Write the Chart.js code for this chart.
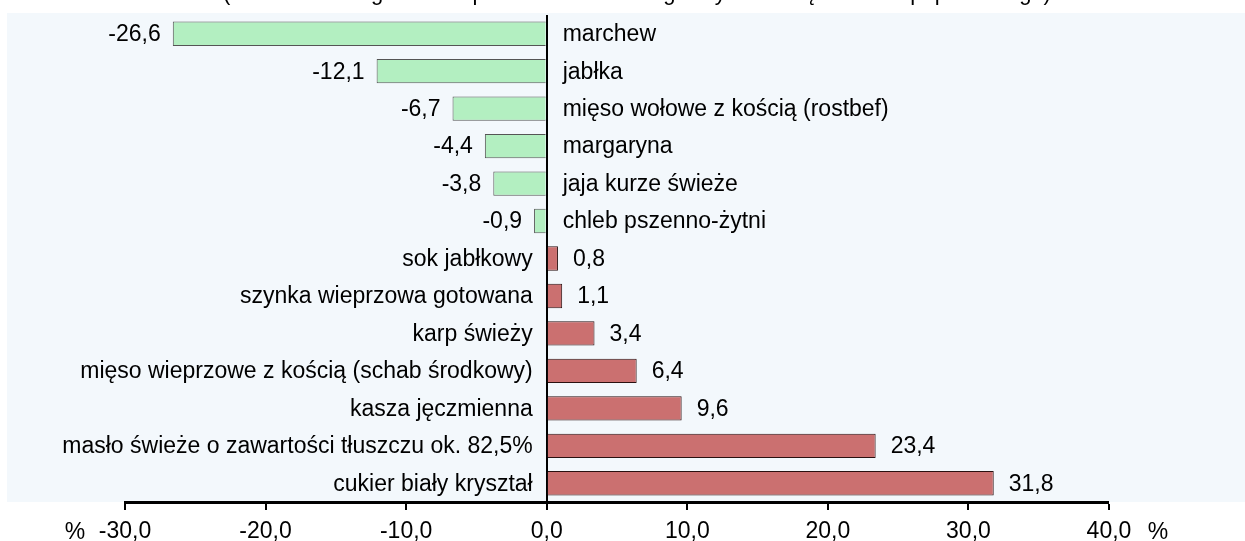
<!DOCTYPE html>
<html>
<head>
<meta charset="utf-8">
<script src="https://cdn.jsdelivr.net/npm/chart.js@4"></script>
<style>
  html, body { margin: 0; padding: 0; background: #fff; }
  #wrap { width: 1245px; height: 541px; position: relative; }
</style>
</head>
<body>
<div id="wrap"><canvas id="chart"></canvas></div>
<script>
// --- Dane ---
const categories = [
    'marchew',
    'jabłka',
    'mięso wołowe z kością (rostbef)',
    'margaryna',
    'jaja kurze świeże',
    'chleb pszenno-żytni',
    'sok jabłkowy',
    'szynka wieprzowa gotowana',
    'karp świeży',
    'mięso wieprzowe z kością (schab środkowy)',
    'kasza jęczmienna',
    'masło świeże o zawartości tłuszczu ok. 82,5%',
    'cukier biały kryształ'
];
const changes = [-26.6, -12.1, -6.7, -4.4, -3.8, -0.9, 0.8, 1.1, 3.4, 6.4, 9.6, 23.4, 31.8];
const axisMin = -30;
const axisMax = 40;
const axisStep = 10;
const titleText = '(zmiana cen w grudniu w porównaniu z analogicznym miesiącem roku poprzedniego)';

const FONT = 'Liberation Sans, Arial, sans-serif';
const fmt = v => v.toFixed(1).replace('.', ',');

// tło obszaru wykresu + przycięty tytuł u góry
const backgroundPlugin = {
    id: 'bgPanel',
    beforeDraw(chart) {
        const { ctx, chartArea, width } = chart;
        ctx.save();
        ctx.fillStyle = '#f3f8fc';
        ctx.fillRect(7, 13, width - 7, chartArea.bottom - 13);
        ctx.fillStyle = '#000';
        ctx.font = '22px ' + FONT;
        ctx.textAlign = 'center';
        ctx.textBaseline = 'alphabetic';
        ctx.fillText(titleText, 637, 0);
        ctx.restore();
    }
};

// etykiety wartości i kategorii przy słupkach
const labelPlugin = {
    id: 'barLabels',
    afterDatasetsDraw(chart) {
        const { ctx } = chart;
        const zeroX = chart.scales.x.getPixelForValue(0);
        const meta = chart.getDatasetMeta(0);
        ctx.save();
        ctx.fillStyle = '#000';
        ctx.textBaseline = 'middle';
        ctx.font = '23px ' + FONT;
        meta.data.forEach((bar, i) => {
            const v = changes[i];
            const y = bar.y + 1;
            if (v < 0) {
                ctx.textAlign = 'right';
                ctx.fillText(fmt(v), bar.x - 12, y);
                ctx.textAlign = 'left';
                ctx.fillText(categories[i], zeroX + 16, y);
            } else {
                ctx.textAlign = 'left';
                ctx.fillText(fmt(v), bar.x + 15, y);
                ctx.textAlign = 'right';
                ctx.fillText(categories[i], zeroX - 14, y);
            }
        });
        // znaki % przy osi
        const ty = chart.chartArea.bottom + 31;
        ctx.textAlign = 'center';
        ctx.fillText('%', 75, ty);
        ctx.fillText('%', 1158, ty);
        ctx.restore();
    }
};

const ctx = document.getElementById('chart').getContext('2d');
new Chart(ctx, {
    type: 'bar',
    data: {
        labels: categories,
        datasets: [{
            data: changes,
            backgroundColor: changes.map(v => v < 0 ? '#b3efc1' : '#cb7070'),
            borderColor: changes.map(v => v < 0 ? '#555' : '#2a1010'),
            borderWidth: 1,
            categoryPercentage: 1,
            barPercentage: 0.65
        }]
    },
    options: {
        indexAxis: 'y',
        responsive: true,
        maintainAspectRatio: false,
        animation: false,
        layout: { padding: { left: 125, right: 136, top: 15, bottom: 0 } },
        plugins: {
            legend: { display: false },
            tooltip: { enabled: false }
        },
        scales: {
            x: {
                min: axisMin,
                max: axisMax,
                afterFit: scale => { scale.height = 39; },
                ticks: {
                    stepSize: axisStep,
                    color: '#000',
                    padding: 8,
                    font: { size: 23, family: FONT },
                    callback: v => fmt(v)
                },
                grid: {
                    drawOnChartArea: true,
                    drawTicks: true,
                    tickLength: 8,
                    tickWidth: 2,
                    tickColor: '#000',
                    color: c => c.tick && c.tick.value === 0 ? '#000' : 'rgba(0,0,0,0)',
                    lineWidth: c => c.tick && c.tick.value === 0 ? 2 : 0
                },
                border: { display: true, color: '#000', width: 3 }
            },
            y: {
                display: false
            }
        }
    },
    plugins: [backgroundPlugin, labelPlugin]
});
</script>
</body>
</html>
